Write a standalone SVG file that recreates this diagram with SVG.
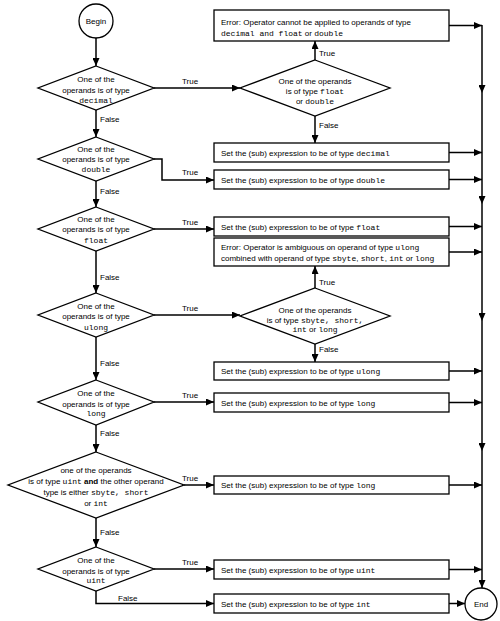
<svg xmlns="http://www.w3.org/2000/svg" width="500" height="621" viewBox="0 0 500 621">
<style>
text{font-family:"Liberation Sans",Arial,sans-serif;font-size:8px;fill:#000}
.m{font-family:"Liberation Mono","DejaVu Sans Mono",monospace;font-size:8px}
.c{text-anchor:middle}
.shape{fill:#fff;stroke:#000;stroke-width:1.3}
.ln{fill:none;stroke:#000;stroke-width:1.5;marker-end:url(#ah)}
.pl{fill:none;stroke:#000;stroke-width:1.5}
</style>
<defs>
<marker id="ah" markerUnits="userSpaceOnUse" markerWidth="9" markerHeight="7" refX="8" refY="3.5" orient="auto">
<path d="M0,0 L8,3.5 L0,7 z" fill="#000"/>
</marker>
</defs>
<rect width="500" height="621" fill="#fff"/>

<g id="connectors">
<path class="ln" d="M96,38 V66"/>
<path class="ln" d="M154,88 H240"/>
<path class="ln" d="M315,60 V41"/>
<path class="ln" d="M315,116 V143"/>
<path class="ln" d="M96,110 V137"/>
<path class="ln" d="M154,159 H162 V180 H214"/>
<path class="ln" d="M96,181 V207"/>
<path class="ln" d="M154,229 H214"/>
<path class="ln" d="M96,251 V293"/>
<path class="ln" d="M154,315 H240"/>
<path class="ln" d="M315,288 V266"/>
<path class="ln" d="M315,344 V362"/>
<path class="ln" d="M96,337 V380"/>
<path class="ln" d="M154,402 H214"/>
<path class="ln" d="M96,425 V452"/>
<path class="ln" d="M184,485 H214"/>
<path class="ln" d="M96,518 V547"/>
<path class="ln" d="M154,569 H214"/>
<path class="ln" d="M96,591 V603.5 H214"/>
<path class="ln" d="M449,25.5 H482"/>
<path class="ln" d="M449,152.5 H482"/>
<path class="ln" d="M449,179.5 H482"/>
<path class="ln" d="M449,226.5 H482"/>
<path class="ln" d="M449,252 H482"/>
<path class="ln" d="M449,371 H482"/>
<path class="ln" d="M449,402.5 H482"/>
<path class="ln" d="M449,485 H482"/>
<path class="ln" d="M449,569.5 H482"/>
<path class="ln" d="M449,603.5 H465"/>
<path class="ln" d="M482,25 V93"/>
<path class="ln" d="M482,93 V204"/>
<path class="ln" d="M482,204 V321"/>
<path class="ln" d="M482,321 V451"/>
<path class="ln" d="M482,451 V588"/>
<text x="182" y="84">True</text>
<text x="100" y="122">False</text>
<text x="319" y="56">True</text>
<text x="319" y="128">False</text>
<text x="182" y="175">True</text>
<text x="100" y="194">False</text>
<text x="182" y="225">True</text>
<text x="100" y="280">False</text>
<text x="182" y="311">True</text>
<text x="319" y="285">True</text>
<text x="319" y="352">False</text>
<text x="100" y="366">False</text>
<text x="182" y="398">True</text>
<text x="100" y="436">False</text>
<text x="182" y="481">True</text>
<text x="100" y="535">False</text>
<text x="182" y="565">True</text>
<text x="118" y="601">False</text>
</g>

<g id="begin">
<circle class="shape" cx="96" cy="21" r="17"/>
<text class="c" x="96" y="24">Begin</text>
</g>

<g id="d_decimal">
<polygon class="shape" points="96,66 154,88 96,110 38,88"/>
<text class="c" x="96" y="82">One of the</text>
<text class="c" x="96" y="93">operands is of type</text>
<text class="c m" x="96" y="103">decimal</text>
</g>

<g id="d_floatdouble">
<polygon class="shape" points="315,60 390,88 315,116 240,88"/>
<text class="c" x="315" y="84">One of the operands</text>
<text class="c" x="315" y="94">is of type <tspan class="m">float</tspan></text>
<text class="c" x="315" y="104">or <tspan class="m">double</tspan></text>
</g>

<g id="b_err1">
<rect class="shape" x="214" y="10" width="235" height="31"/>
<text x="221" y="25">Error: Operator cannot be applied to operands of type</text>
<text x="221" y="36"><tspan class="m">decimal and float</tspan> or <tspan class="m">double</tspan></text>
</g>

<g id="b_decimal">
<rect class="shape" x="214" y="143" width="235" height="19"/>
<text x="221" y="155.5">Set the (sub) expression to be of type <tspan class="m">decimal</tspan></text>
</g>

<g id="d_double">
<polygon class="shape" points="96,137 154,159 96,181 38,159"/>
<text class="c" x="96" y="152">One of the</text>
<text class="c" x="96" y="162">operands is of type</text>
<text class="c m" x="96" y="172">double</text>
</g>

<g id="b_double">
<rect class="shape" x="214" y="170" width="235" height="19"/>
<text x="221" y="182.5">Set the (sub) expression to be of type <tspan class="m">double</tspan></text>
</g>

<g id="d_float">
<polygon class="shape" points="96,207 154,229 96,251 38,229"/>
<text class="c" x="96" y="222">One of the</text>
<text class="c" x="96" y="232">operands is of type</text>
<text class="c m" x="96" y="243">float</text>
</g>

<g id="b_float">
<rect class="shape" x="214" y="217" width="235" height="19"/>
<text x="221" y="229.5">Set the (sub) expression to be of type <tspan class="m">float</tspan></text>
</g>

<g id="b_err2">
<rect class="shape" x="214" y="238" width="235" height="28"/>
<text x="221" y="250">Error: Operator is ambiguous on operand of type <tspan class="m">ulong</tspan></text>
<text x="221" y="261">combined with operand of type <tspan class="m">sbyte</tspan>, <tspan class="m">short</tspan>, <tspan class="m">int</tspan> or <tspan class="m">long</tspan></text>
</g>

<g id="d_ulong">
<polygon class="shape" points="96,293 154,315 96,337 38,315"/>
<text class="c" x="96" y="309">One of the</text>
<text class="c" x="96" y="319">operands is of type</text>
<text class="c m" x="96" y="330">ulong</text>
</g>

<g id="d_signed">
<polygon class="shape" points="315,288 390,316 315,344 240,316"/>
<text class="c" x="315" y="313">One of the operands</text>
<text class="c" x="315" y="323">is of type <tspan class="m">sbyte, short,</tspan></text>
<text class="c" x="315" y="332"><tspan class="m">int</tspan> or <tspan class="m">long</tspan></text>
</g>

<g id="b_ulong">
<rect class="shape" x="214" y="362" width="235" height="18"/>
<text x="221" y="374">Set the (sub) expression to be of type <tspan class="m">ulong</tspan></text>
</g>

<g id="d_long">
<polygon class="shape" points="96,380 154,402 96,425 38,402"/>
<text class="c" x="96" y="396">One of the</text>
<text class="c" x="96" y="407">operands is of type</text>
<text class="c m" x="96" y="416">long</text>
</g>

<g id="b_long">
<rect class="shape" x="214" y="393" width="235" height="19"/>
<text x="221" y="405.5">Set the (sub) expression to be of type <tspan class="m">long</tspan></text>
</g>

<g id="d_uint_other">
<polygon class="shape" points="96,452 184,485 96,518 8,485"/>
<text class="c" x="96" y="473">one of the operands</text>
<text class="c" x="96" y="484">is of type <tspan class="m">uint</tspan> <tspan font-weight="bold">and</tspan> the other operand</text>
<text class="c" x="96" y="495">type is either <tspan class="m">sbyte, short</tspan></text>
<text class="c" x="96" y="506">or <tspan class="m">int</tspan></text>
</g>

<g id="b_long2">
<rect class="shape" x="214" y="476" width="235" height="18"/>
<text x="221" y="488">Set the (sub) expression to be of type <tspan class="m">long</tspan></text>
</g>

<g id="d_uint">
<polygon class="shape" points="96,547 154,569 96,591 38,569"/>
<text class="c" x="96" y="563">One of the</text>
<text class="c" x="96" y="574">operands is of type</text>
<text class="c m" x="96" y="583">uint</text>
</g>

<g id="b_uint">
<rect class="shape" x="214" y="560" width="235" height="19"/>
<text x="221" y="572.5">Set the (sub) expression to be of type <tspan class="m">uint</tspan></text>
</g>

<g id="b_int">
<rect class="shape" x="214" y="594" width="235" height="19"/>
<text x="221" y="606.5">Set the (sub) expression to be of type <tspan class="m">int</tspan></text>
</g>

<g id="end">
<circle class="shape" cx="481" cy="604" r="16"/>
<text class="c" x="481" y="607">End</text>
</g>
</svg>
